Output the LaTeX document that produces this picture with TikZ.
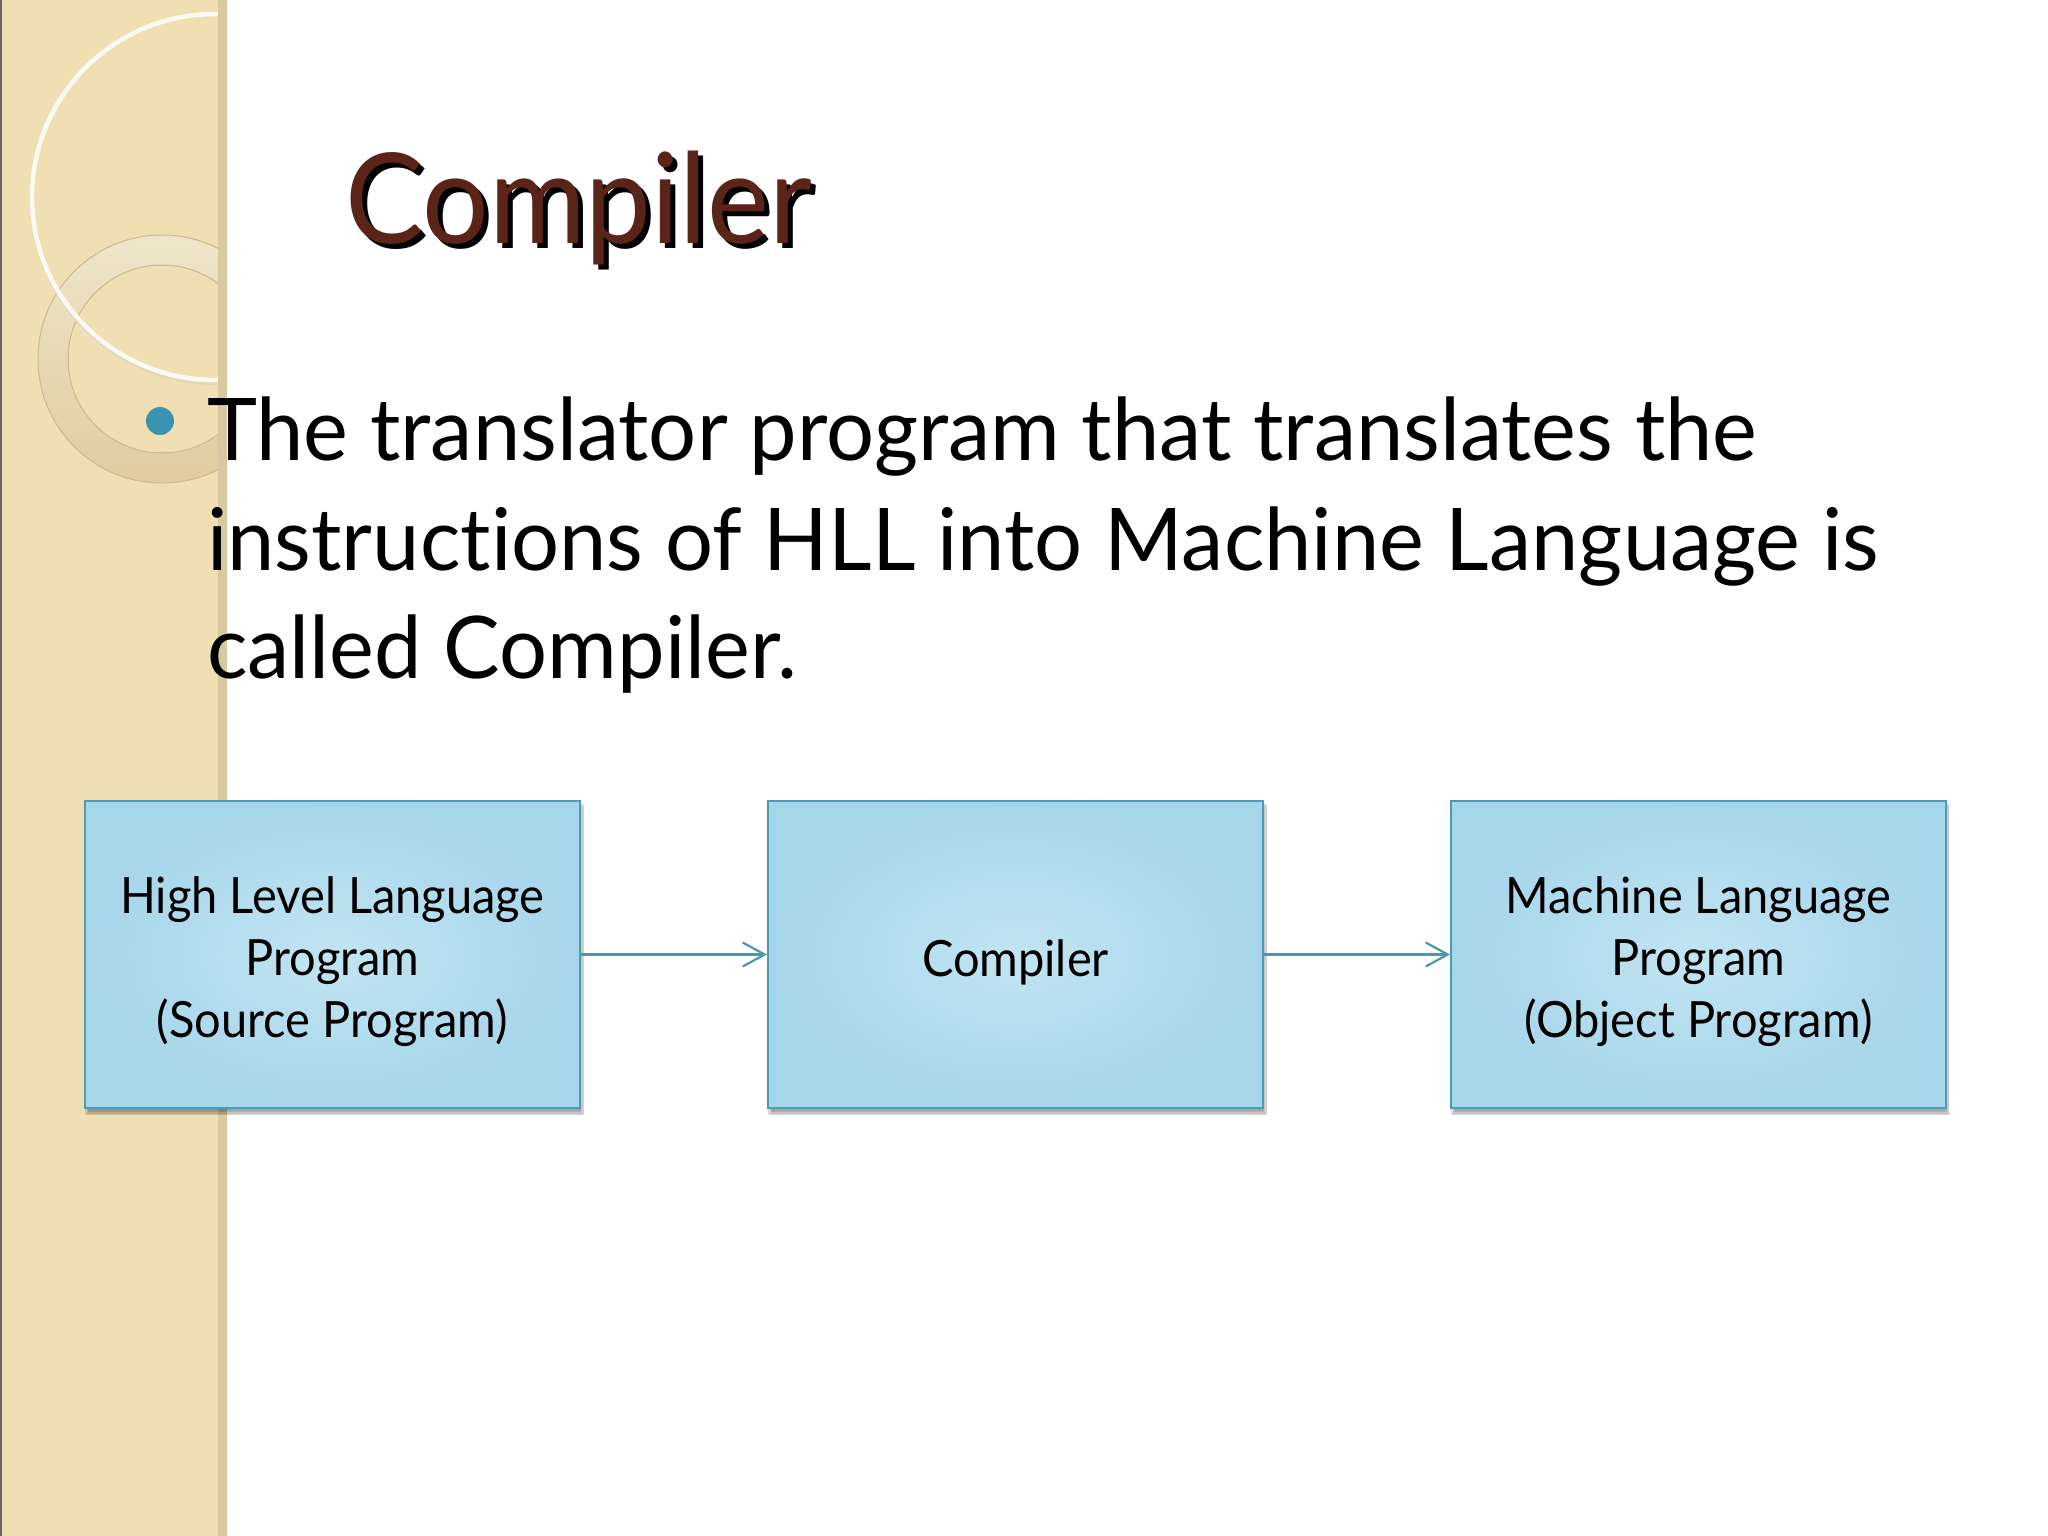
\documentclass[tikz,border=0pt]{standalone}
\usepackage{fontspec}
\usetikzlibrary{shadows,shadows.blur,arrows.meta}
\newfontfamily\titlefont[FakeStretch=0.935,Ligatures=NoCommon]{Lato}
\newfontfamily\bodyfont[FakeStretch=0.98,Ligatures=NoCommon]{Lato}
\newfontfamily\boxfont[FakeStretch=0.94,Ligatures=NoCommon]{Lato}
\definecolor{stripbg}{HTML}{F0DFB2}
\definecolor{striplight}{HTML}{F5ECD5}
\definecolor{stripedge}{HTML}{D9C9A0}
\definecolor{ringlight}{HTML}{EFE5CA}
\definecolor{ringdark}{HTML}{E0CC9E}
\definecolor{ringline}{HTML}{CDBB92}
\definecolor{titlebrown}{HTML}{5B2418}
\definecolor{dotblue}{HTML}{3A93B0}
\definecolor{boxin}{HTML}{C2E4F1}
\definecolor{boxout}{HTML}{A6D6EA}
\definecolor{boxline}{HTML}{4E9BB3}
\definecolor{arrowblue}{HTML}{4A98AE}
\tikzset{
  boxnode/.style={rectangle, minimum width=495pt, minimum height=307pt, inner sep=0pt,
    draw=boxline, line width=2pt, inner color=boxin, outer color=boxout,
    blur shadow={shadow xshift=2pt, shadow yshift=-5pt, shadow blur steps=6, shadow opacity=35}},
  boxtext/.style={align=center, inner sep=0pt, font=\boxfont\fontsize{50}{62}\selectfont},
  bullettext/.style={anchor=base west, inner sep=0pt, font=\bodyfont\fontsize{86.5}{109}\selectfont},
  flow/.style={draw=arrowblue, line width=2.2pt, -{Straight Barb[length=22pt,width=24pt,line width=2.2pt]}},
}
\begin{document}
\begin{tikzpicture}[x=1pt,y=-1pt]
\useasboundingbox (0,0) rectangle (2048,1536);
\fill[white] (0,0) rectangle (2048,1536);
% left decorative strip
\fill[stripbg] (0,0) rectangle (227,1536);
\begin{scope}
  \clip (0,0) rectangle (218,1536);
  \fill[striplight] (0,0) -- (182,0) arc[start angle=0, end angle=-90, radius=182] -- cycle;
  \draw[ringline!70, line width=0.8pt] (182,0) arc[start angle=0, end angle=-90, radius=182];
  % thick ring
  \fill[even odd rule, top color=ringlight, bottom color=ringdark]
     (162,359) circle[radius=124] (162,359) circle[radius=94];
  \draw[ringline, line width=1pt] (162,359) circle[radius=124];
  \draw[ringline, line width=1pt] (162,359) circle[radius=94];
  % thin cream ring
  \draw[ringline!60, line width=2pt] (216,199) circle[radius=185];
  \draw[white!85!stripbg, line width=4.5pt] (215,197) circle[radius=183];
\end{scope}
\fill[stripedge] (218,0) rectangle (227,1536);
\draw[black!60, line width=2pt] (1,0) -- (1,1536);
% title with shadow
\node[anchor=base west, inner sep=0pt, font=\titlefont\fontsize{125.6}{150}\selectfont, text=black] (titleshadow) at (350,248) {Compiler};
\node[anchor=base west, inner sep=0pt, font=\titlefont\fontsize{125.6}{150}\selectfont, text=titlebrown] (title) at (345,243) {Compiler};
% bullet
\node[circle, fill=dotblue, minimum size=28pt, inner sep=0pt] (dot) at (160,421) {};
\node[bullettext] (b1) at (207,460) {The translator program that translates the};
\node[bullettext] (b2) at (207,570) {instructions of HLL into Machine Language is};
\node[bullettext] (b3) at (207,678) {called Compiler.};
% boxes
\node[boxnode] (hll) at (332.5,954.5) {};
\node[boxnode] (comp) at (1015.5,954.5) {};
\node[boxnode] (mlp) at (1698.5,954.5) {};
\node[boxtext] (hlltext) at (332.5,962) {High Level Language\\Program\\(Source Program)};
\node[boxtext] (comptext) at (1015.5,962) {Compiler};
\node[boxtext] (mlptext) at (1698.5,962) {Machine Language\\Program\\(Object Program)};
% arrows
\draw[flow] (hll.east) -- (comp.west);
\draw[flow] (comp.east) -- (mlp.west);
\end{tikzpicture}
\end{document}
